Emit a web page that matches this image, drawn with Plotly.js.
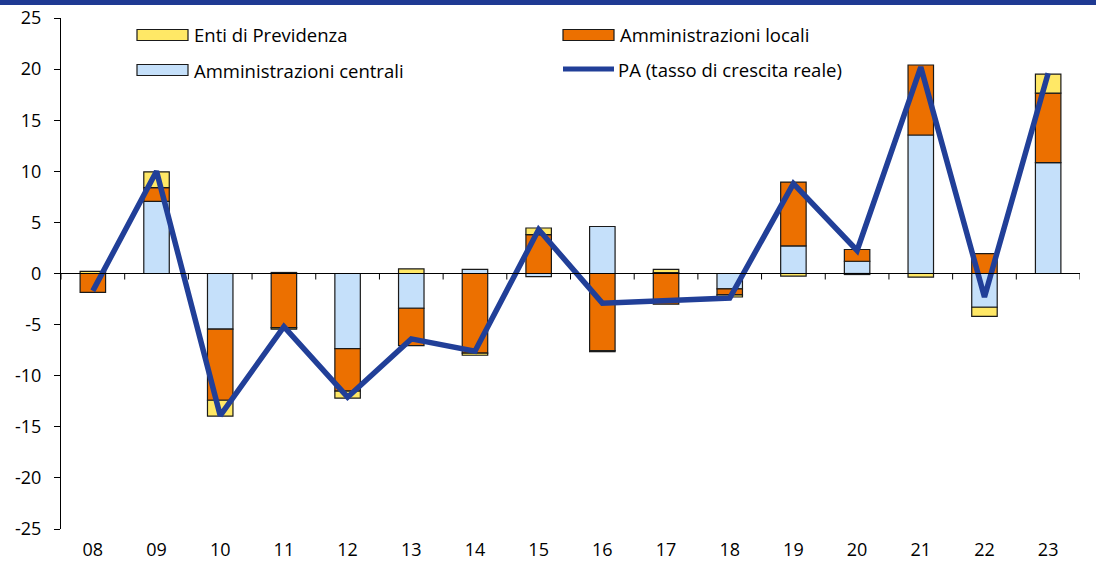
<!DOCTYPE html>
<html>
<head>
<meta charset="utf-8">
<script src="https://cdn.plot.ly/plotly-3.0.1.min.js"></script>
<style>
  html, body { margin: 0; padding: 0; background: #fff; }
  #band { position: absolute; left: 0; top: 0; width: 1096px; height: 5px; background: #1f3a93; }
  #chart { width: 1096px; height: 567px; }
</style>
</head>
<body>
<div id="chart"></div>
<div id="band"></div>
<script>
const years = ['08', '09', '10', '11', '12', '13', '14', '15', '16', '17', '18', '19', '20', '21', '22', '23'];
const centrali = [0, 7.05, -5.45, 0.1, -7.35, -3.4, 0.4, -0.3, 4.6, 0.1, -1.5, 2.7, 1.2, 13.55, -3.3, 10.85];
const locali = [-1.85, 1.35, -6.95, -5.3, -4.15, -3.65, -7.8, 3.8, -7.55, -3.0, -0.6, 6.25, 1.15, 6.85, 1.95, 6.8];
const enti = [0.2, 1.55, -1.55, -0.15, -0.7, 0.45, -0.2, 0.65, -0.1, 0.3, -0.2, -0.25, -0.1, -0.35, -0.9, 1.85];
const pa = [-1.7, 10.0, -13.9, -5.2, -12.1, -6.4, -7.6, 4.3, -2.9, -2.7, -2.4, 8.8, 2.25, 20.2, -2.3, 19.6];
const yTicks = [-25, -20, -15, -10, -5, 0, 5, 10, 15, 20, 25];
const yTickText = ['-25', '-20', '-15', '-10', '-5', '0', '5', '10', '15', '20', '25'];

const FONT = '"Open Sans", Lato, sans-serif';
const COLORS = {
  centrali: '#c5e0fa',
  locali: '#ec7000',
  enti: '#ffe866',
  pa: '#213f98',
};

function barTrace(name, values, color) {
  return {
    type: 'bar',
    name,
    x: years,
    y: values,
    marker: { color, line: { color: '#1a1a1a', width: 1.2 } },
    hoverinfo: 'skip',
  };
}

const data = [
  barTrace('Amministrazioni centrali', centrali, COLORS.centrali),
  barTrace('Amministrazioni locali', locali, COLORS.locali),
  barTrace('Enti di Previdenza', enti, COLORS.enti),
  {
    type: 'scatter',
    mode: 'lines',
    name: 'PA (tasso di crescita reale)',
    x: years,
    y: pa,
    line: { color: COLORS.pa, width: 5.5 },
    hoverinfo: 'skip',
  },
];

// little tick marks on the zero line, between categories
const shapes = [];
for (let i = 0; i <= years.length; i += 1) {
  shapes.push({
    type: 'line', xref: 'x', yref: 'y', ysizemode: 'pixel', yanchor: 0,
    x0: i - 0.5, x1: i - 0.5, y0: 0, y1: -6,
    line: { color: '#000', width: 1 },
  });
}
shapes.push({
  type: 'line', xref: 'paper', yref: 'y', x0: 0, x1: 1, y0: 0, y1: 0,
  line: { color: '#000', width: 1 },
  layer: 'above',
});

// hand-made legend, Excel style
const legendItems = [
  { label: 'Enti di Previdenza', color: COLORS.enti, kind: 'box', px: 137, py: 35 },
  { label: 'Amministrazioni locali', color: COLORS.locali, kind: 'box', px: 563, py: 35 },
  { label: 'Amministrazioni centrali', color: COLORS.centrali, kind: 'box', px: 137, py: 70 },
  { label: 'PA (tasso di crescita reale)', color: COLORS.pa, kind: 'line', px: 561, py: 69 },
];
const W = 1096, H = 567;
const M = { l: 61, r: 16, t: 18, b: 38 };
const pw = W - M.l - M.r, ph = H - M.t - M.b;
const toX = px => (px - M.l) / pw;
const toY = py => 1 - (py - M.t) / ph;
const annotations = [];
legendItems.forEach(it => {
  if (it.kind === 'box') {
    shapes.push({
      type: 'rect', xref: 'paper', yref: 'paper',
      x0: toX(it.px), x1: toX(it.px + 51), y0: toY(it.py - 5.5), y1: toY(it.py + 5.5),
      fillcolor: it.color, line: { color: '#1a1a1a', width: 1.2 },
    });
  } else {
    shapes.push({
      type: 'line', xref: 'paper', yref: 'paper',
      x0: toX(it.px + 2), x1: toX(it.px + 53), y0: toY(it.py), y1: toY(it.py),
      line: { color: it.color, width: 5 },
    });
  }
  annotations.push({
    xref: 'paper', yref: 'paper', x: toX(it.px + 55), y: toY(it.py),
    xanchor: 'left', yanchor: 'middle', showarrow: false,
    text: it.label, font: { family: FONT, size: 18.5, color: '#000' },
  });
});

const layout = {
  width: W,
  height: H,
  margin: M,
  paper_bgcolor: '#fff',
  plot_bgcolor: '#fff',
  barmode: 'relative',
  bargap: 0.6,
  showlegend: false,
  font: { family: FONT, size: 18, color: '#000' },
  xaxis: {
    type: 'category',
    range: [-0.5, 15.5],
    showline: false,
    showgrid: false,
    zeroline: false,
    ticks: '',
    ticklabelstandoff: 8,
    tickfont: { family: FONT, size: 18 },
  },
  yaxis: {
    range: [-25, 25],
    tickvals: yTicks,
    ticktext: yTickText,
    showline: true,
    linecolor: '#000',
    linewidth: 1,
    ticks: 'outside',
    ticklen: 6,
    tickcolor: '#000',
    ticklabelstandoff: 9,
    showgrid: false,
    zeroline: false,
    tickfont: { family: FONT, size: 18 },
  },
  shapes,
  annotations,
};

Plotly.newPlot('chart', data, layout, { displayModeBar: false, staticPlot: true });
</script>
</body>
</html>
